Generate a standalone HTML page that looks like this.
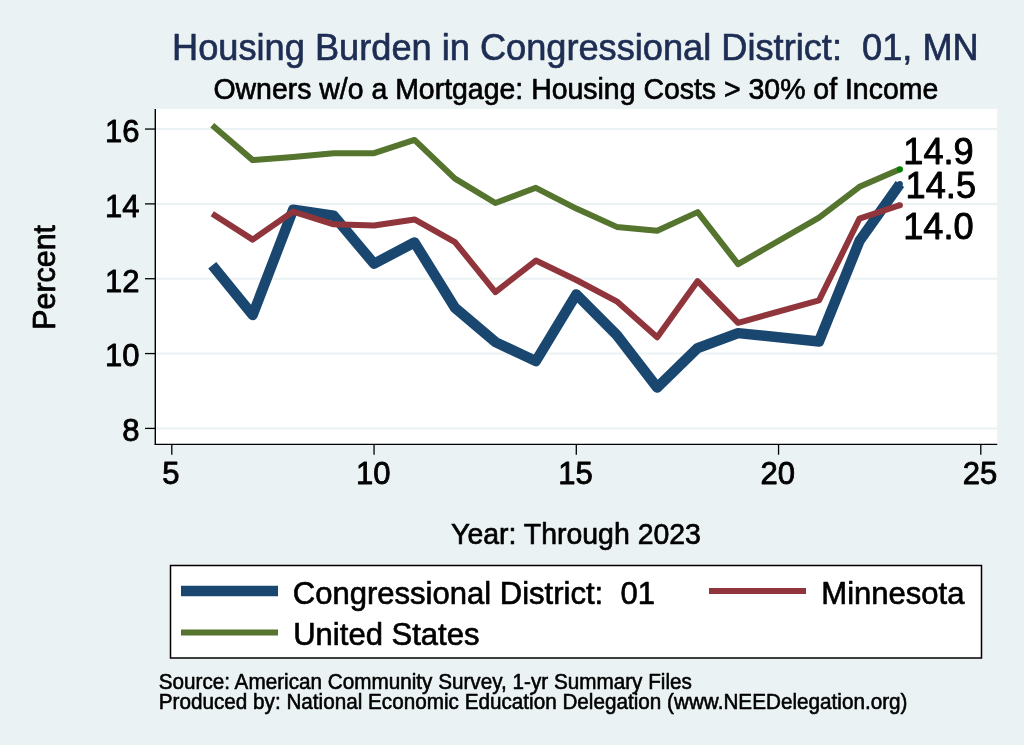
<!DOCTYPE html>
<html lang="en"><head><meta charset="utf-8"><title>Housing Burden in Congressional District: 01, MN</title>
<style>
html,body{margin:0;padding:0;background:#eaf2f3;}
body{width:1024px;height:745px;overflow:hidden;}
svg{display:block;}
text{font-family:"Liberation Sans",Arial,Helvetica,sans-serif;fill:#000;stroke:#000;stroke-width:0.85px;stroke-linejoin:round;white-space:pre;}
.title{font-size:36.2px;fill:#1e2d53;stroke:#1e2d53;stroke-width:0.65px;}
.sub{font-size:28.45px;stroke-width:0.65px;}
.tick{font-size:31.04px;}
.axt{font-size:28.45px;stroke-width:0.65px;}
.ylab{font-size:30.4px;stroke-width:0.75px;}
.leg{font-size:31.04px;stroke-width:0.65px;}
.note{font-size:20.7px;stroke-width:0.55px;}
.mlab{font-size:36.2px;stroke-width:0.9px;}
</style></head><body>
<svg width="1024" height="745" viewBox="0 0 1024 745">
<rect x="0" y="0" width="1024" height="745" fill="#eaf2f3"/>
<rect x="155.3" y="109" width="841.9" height="335.4" fill="#ffffff"/>
<line x1="156" x2="997.2" y1="428.40" y2="428.40" stroke="#eaf2f3" stroke-width="2"/>
<line x1="156" x2="997.2" y1="353.56" y2="353.56" stroke="#eaf2f3" stroke-width="2"/>
<line x1="156" x2="997.2" y1="278.73" y2="278.73" stroke="#eaf2f3" stroke-width="2"/>
<line x1="156" x2="997.2" y1="203.89" y2="203.89" stroke="#eaf2f3" stroke-width="2"/>
<line x1="156" x2="997.2" y1="129.05" y2="129.05" stroke="#eaf2f3" stroke-width="2"/>
<polyline points="212.25,265.22 252.70,314.97 293.15,209.68 333.60,215.67 374.05,263.73 414.50,242.41 454.95,307.67 495.40,342.08 535.85,361.15 576.30,294.40 616.75,334.97 657.20,387.52 697.65,348.06 738.10,333.10 819.00,341.52 859.45,241.10 899.90,183.88" fill="none" stroke="#1a476f" stroke-width="10.4" stroke-linejoin="round" stroke-linecap="butt"/>
<polyline points="212.25,213.80 252.70,239.60 293.15,211.55 333.60,224.27 374.05,225.58 414.50,219.41 454.95,242.04 495.40,292.15 535.85,260.55 576.30,280.00 616.75,301.31 657.20,337.22 697.65,281.12 738.10,322.82 819.00,300.38 859.45,218.66 899.90,205.20" fill="none" stroke="#90353b" stroke-width="6" stroke-linejoin="round" stroke-linecap="butt"/>
<polyline points="212.25,125.35 252.70,160.13 293.15,156.95 333.60,153.21 374.05,153.21 414.50,139.93 454.95,178.64 495.40,202.95 535.85,187.80 576.30,208.56 616.75,226.89 657.20,230.81 697.65,212.12 738.10,264.10 819.00,217.54 859.45,186.87 899.90,169.29" fill="none" stroke="#55752f" stroke-width="6" stroke-linejoin="round" stroke-linecap="butt"/>
<circle cx="899.90" cy="183.88" r="3.0" fill="#1a476f"/>
<circle cx="899.90" cy="205.20" r="3.0" fill="#90353b"/>
<circle cx="899.90" cy="169.29" r="3.1" fill="#008000"/>
<text class="mlab" xml:space="preserve" transform="translate(903.30 164.10) scale(1 1.015)">14.9</text>
<text class="mlab" xml:space="preserve" transform="translate(905.60 198.30) scale(1 1.015)">14.5</text>
<text class="mlab" xml:space="preserve" transform="translate(903.20 239.40) scale(1 1.015)">14.0</text>
<line x1="155.3" x2="155.3" y1="109" y2="445" stroke="#000" stroke-width="1.4"/>
<line x1="154.7" x2="997.2" y1="444.4" y2="444.4" stroke="#000" stroke-width="1.4"/>
<line x1="145" x2="155.3" y1="428.40" y2="428.40" stroke="#000" stroke-width="1.3"/>
<text class="tick" text-anchor="end" xml:space="preserve" transform="translate(139.50 441.15) scale(1 1.025)">8</text>
<line x1="145" x2="155.3" y1="353.56" y2="353.56" stroke="#000" stroke-width="1.3"/>
<text class="tick" text-anchor="end" xml:space="preserve" transform="translate(139.50 366.35) scale(1 1.025)">10</text>
<line x1="145" x2="155.3" y1="278.73" y2="278.73" stroke="#000" stroke-width="1.3"/>
<text class="tick" text-anchor="end" xml:space="preserve" transform="translate(139.50 291.55) scale(1 1.025)">12</text>
<line x1="145" x2="155.3" y1="203.89" y2="203.89" stroke="#000" stroke-width="1.3"/>
<text class="tick" text-anchor="end" xml:space="preserve" transform="translate(139.50 216.75) scale(1 1.025)">14</text>
<line x1="145" x2="155.3" y1="129.05" y2="129.05" stroke="#000" stroke-width="1.3"/>
<text class="tick" text-anchor="end" xml:space="preserve" transform="translate(139.50 141.95) scale(1 1.025)">16</text>
<line x1="171.80" x2="171.80" y1="444.4" y2="454.7" stroke="#000" stroke-width="1.3"/>
<text class="tick" text-anchor="middle" xml:space="preserve" transform="translate(171.00 483.70) scale(1 1.025)">5</text>
<line x1="374.05" x2="374.05" y1="444.4" y2="454.7" stroke="#000" stroke-width="1.3"/>
<text class="tick" text-anchor="middle" xml:space="preserve" transform="translate(373.25 483.70) scale(1 1.025)">10</text>
<line x1="576.30" x2="576.30" y1="444.4" y2="454.7" stroke="#000" stroke-width="1.3"/>
<text class="tick" text-anchor="middle" xml:space="preserve" transform="translate(575.50 483.70) scale(1 1.025)">15</text>
<line x1="778.55" x2="778.55" y1="444.4" y2="454.7" stroke="#000" stroke-width="1.3"/>
<text class="tick" text-anchor="middle" xml:space="preserve" transform="translate(777.75 483.70) scale(1 1.025)">20</text>
<line x1="980.80" x2="980.80" y1="444.4" y2="454.7" stroke="#000" stroke-width="1.3"/>
<text class="tick" text-anchor="middle" xml:space="preserve" transform="translate(980.00 483.70) scale(1 1.025)">25</text>
<text class="title" text-anchor="middle" xml:space="preserve" transform="translate(575.40 59.50) scale(1 1.04)">Housing Burden in Congressional District:  01, MN</text>
<text class="sub" text-anchor="middle" xml:space="preserve" transform="translate(575.80 99.00) scale(1 1.04)">Owners w/o a Mortgage: Housing Costs &gt; 30% of Income</text>
<text class="axt" text-anchor="middle" xml:space="preserve" transform="translate(576.00 543.70) scale(1 1.04)">Year: Through 2023</text>
<text class="ylab" text-anchor="middle" xml:space="preserve" transform="translate(55.10 277.30) rotate(-90) scale(1 1.062)">Percent</text>
<rect x="170.5" y="565.5" width="811" height="92.5" fill="#ffffff" stroke="#000" stroke-width="1.5"/>
<line x1="181" x2="278" y1="591" y2="591" stroke="#1a476f" stroke-width="10.4"/>
<line x1="181" x2="278" y1="632.5" y2="632.5" stroke="#55752f" stroke-width="6"/>
<line x1="709" x2="806" y1="591" y2="591" stroke="#90353b" stroke-width="6"/>
<text class="leg" xml:space="preserve" transform="translate(292.75 603.70) scale(1 1.04)">Congressional District:  01</text>
<text class="leg" xml:space="preserve" transform="translate(293.20 645.00) scale(1 1.04)">United States</text>
<text class="leg" xml:space="preserve" transform="translate(821.30 603.70) scale(1 1.04)">Minnesota</text>
<text class="note" xml:space="preserve" transform="translate(158.70 689.30) scale(1 1.04)">Source: American Community Survey, 1-yr Summary Files</text>
<text class="note" xml:space="preserve" transform="translate(158.70 709.20) scale(1 1.04)">Produced by: National Economic Education Delegation (www.NEEDelegation.org)</text>
</svg>
</body></html>
